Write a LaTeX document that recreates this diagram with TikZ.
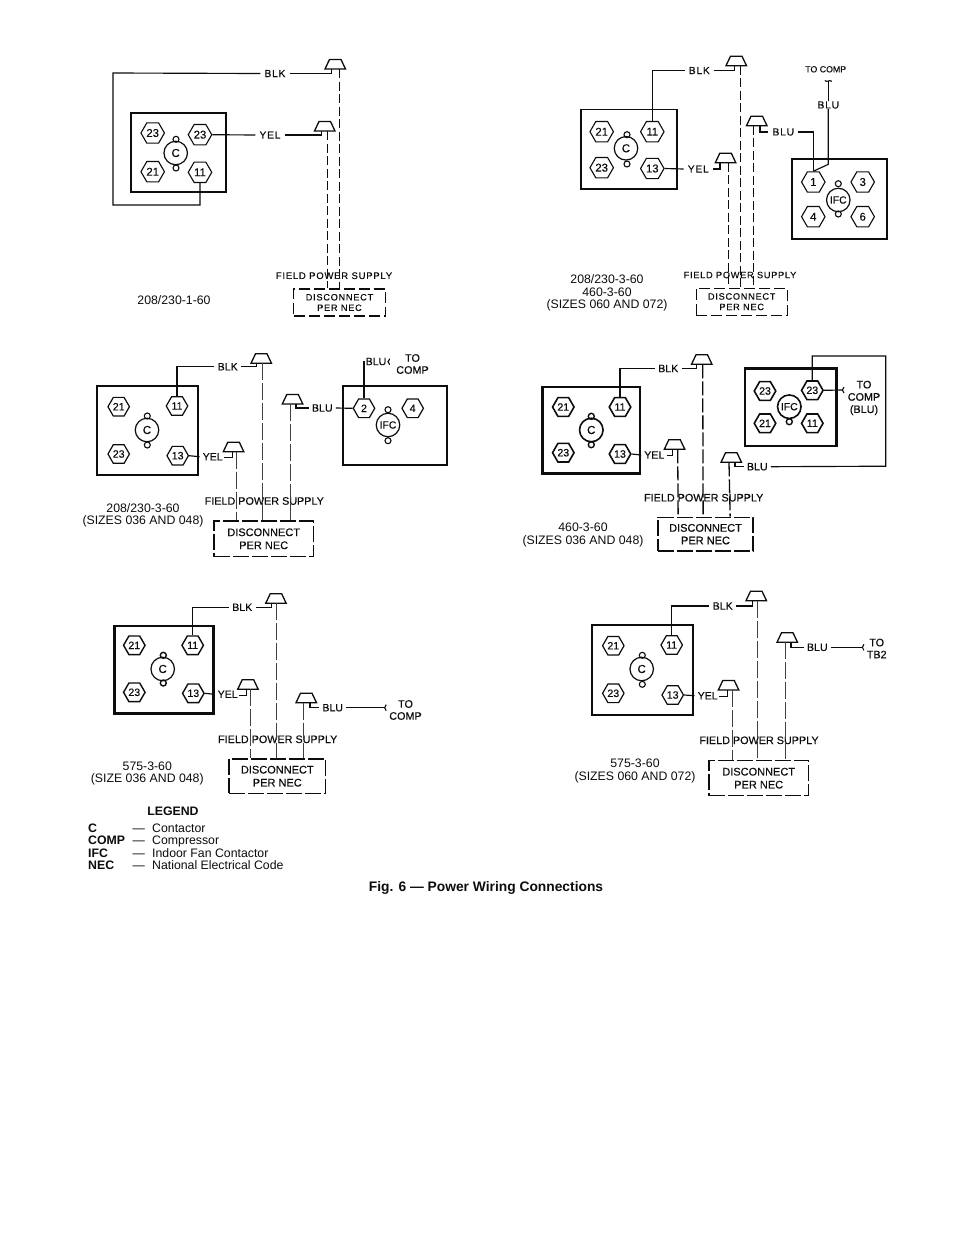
\documentclass[tikz,border=0pt]{standalone}
\usepackage{fontspec}
\setmainfont{Liberation Sans}
\newfontfamily\lett[LetterSpace=8,FakeBold=0.2]{Liberation Sans}
\newfontfamily\fb[FakeBold=0.6]{Liberation Sans}
\newfontfamily\rb[FakeBold=0.2]{Liberation Sans}
\usetikzlibrary{shapes.geometric,calc}
\definecolor{ink}{gray}{0.05}
\definecolor{soft}{gray}{0.25}
\newcommand{\sz}[1]{\fontsize{#1}{#1}\selectfont}
\tikzset{
  wire/.style={draw=ink,line width=1.15pt},
  frame/.style={draw=ink,line width=1.9pt,inner sep=0},
  frameB/.style={draw=ink,line width=2.4pt,inner sep=0},
  hexA/.style={regular polygon,regular polygon sides=6,draw=ink,line width=1.1pt,inner sep=0,minimum size=23.5pt,text=ink,font=\rb\sz{11.3}},
  hexB/.style={regular polygon,regular polygon sides=6,draw=ink,line width=1.2pt,inner sep=0,minimum size=21.5pt,text=ink,font=\rb\sz{10.6}},
  hexC/.style={hexB,line width=1.6pt,font=\fb\sz{10.6}},
  coil/.style={circle,draw=ink,line width=1.2pt,inner sep=0,minimum size=23.5pt,text=ink,font=\rb\sz{11.5}},
  coilC/.style={coil,line width=1.6pt,font=\fb\sz{11.5}},
  dotc/.style={circle,draw=ink,line width=1.1pt,inner sep=0,minimum size=6pt},
  dotC/.style={dotc,line width=1.4pt},
  labA/.style={inner xsep=4pt,inner ysep=0,text=ink,font=\lett\sz{10.2}},
  labB/.style={inner xsep=3pt,inner ysep=0,text=ink,font=\rb\sz{10.6}},
  labC/.style={inner xsep=3pt,inner ysep=0,text=ink,font=\fb\sz{10.6}},
  capt/.style={inner sep=0,text=ink,align=center,font=\fontsize{12.3}{12.5}\selectfont},
  head/.style={inner sep=0,text=ink,align=center,font=\lett\sz{9.5}},
  fieldB/.style={inner sep=0,text=ink,font=\rb\sz{10.8}},
  note/.style={inner sep=0,text=ink,align=center,font=\rb\fontsize{10.8}{12}\selectfont},
  noteC/.style={inner sep=0,text=ink,align=center,font=\fb\fontsize{10.8}{12.3}\selectfont},
  discA/.style={draw=ink,line width=1.3pt,dash pattern=on 11pt off 4pt,inner sep=0,text=ink,align=center,font=\lett\fontsize{9.2}{10.5}\selectfont},
  discB/.style={draw=ink,line width=1.4pt,dash pattern=on 16pt off 3pt,inner sep=0,text=ink,align=center,font=\rb\fontsize{11}{13}\selectfont},
  discC/.style={discB,line width=1.7pt,font=\fb\fontsize{11}{12.6}\selectfont},
  dwA/.style={draw=ink,line width=1.1pt,dash pattern=on 9pt off 3.5pt},
  dwB/.style={draw=soft,line width=1pt,dash pattern=on 17pt off 3pt},
  dwC/.style={draw=ink,line width=1.3pt,dash pattern=on 14pt off 3pt},
  legk/.style={inner sep=0,anchor=base west,text=ink,font=\bfseries\fontsize{12.3}{12.5}\selectfont},
  legv/.style={inner sep=0,anchor=base west,text=ink,font=\fontsize{12.3}{12.5}\selectfont}
}
% \lug{name}{left x}{bottom y}{stub x}{drop x}
\newcommand{\lug}[5]{%
  \coordinate (#1) at (#2,#3);
  \coordinate (#1s) at (#4,#3);
  \coordinate (#1d) at (#5,#3);
  \draw[draw=ink,line width=1.3pt,line join=miter] (#2,#3) -- ++(20.5,0) -- ++(-4.5,-9.5) -- ++(-11.5,0) -- cycle;
}
% \tick{name}: terminal mark at a named coordinate
\newcommand{\tick}[1]{\draw[draw=ink,line width=1.1pt] ($(#1)+(1.2,-3)$) .. controls ($(#1)+(-0.8,-1)$) and ($(#1)+(-0.8,1)$) .. ($(#1)+(1.2,3)$);}
\begin{document}
\begin{tikzpicture}[x=1pt,y=-1pt]
\useasboundingbox[fill=white] (0,0) rectangle (954,1235);

%% ---------- Panel 1
\node[frame,minimum width=95pt,minimum height=79pt] (f1) at (178.5,152.5) {};
\node[hexA] (p1a) at (152.7,133) {23};
\node[hexA] (p1b) at (200,134.7) {23};
\node[hexA] (p1c) at (152.7,171.7) {21};
\node[hexA] (p1d) at (200,172.3) {11};
\node[coil] (p1k) at (175.7,153) {C};
\node[dotc] (p1u) at (176,139.3) {};
\node[dotc] (p1v) at (176,168) {};
\lug{p1x}{325}{69}{331.7}{339.3}
\lug{p1y}{314.5}{131}{321.7}{327.7}
\node[labA] (p1blk) at (275,73.5) {BLK};
\node[labA] (p1yel) at (270,135) {YEL};
\coordinate (p1c1) at (200,205);
\coordinate (p1c2) at (113,73);
\draw[wire] (p1d.south) -- (p1c1) -| (p1c2) -- (p1blk.west);
\draw[wire] (p1blk.east) -| (p1xs);
\draw[wire] (p1b.east) -- (p1yel.west);
\draw[wire] (p1yel.east) -| (p1ys);
\node[head] (p1f) at (334,275.7) {FIELD POWER SUPPLY};
\node[discA,minimum width=92pt,minimum height=27pt] (p1n) at (339.5,302.5) {DISCONNECT\\PER  NEC};
\draw[dwA] (p1xd) -- (p1xd |- p1n.north);
\draw[dwA] (p1yd) -- (p1yd |- p1n.north);
\node[capt] (p1t) at (174,300.5) {208/230-1-60};

%% ---------- Panel 2
\node[frame,minimum width=96pt,minimum height=79.5pt] (f2) at (628.7,149.2) {};
\node[hexA] (p2a) at (601.7,131.7) {21};
\node[hexA] (p2b) at (652.3,131.7) {11};
\node[hexA] (p2c) at (601.7,167.7) {23};
\node[hexA] (p2d) at (652.3,168.5) {13};
\node[coil] (p2k) at (626,148.3) {C};
\node[dotc] (p2u) at (627,134.7) {};
\node[dotc] (p2v) at (627,164) {};
\lug{p2x}{726}{65.7}{734.3}{740.3}
\lug{p2y}{715.3}{162.7}{720}{728.3}
\lug{p2z}{746.5}{125.7}{760}{753.3}
\node[labA] (p2blk) at (699.3,70.5) {BLK};
\node[labA] (p2yel) at (698.3,169) {YEL};
\node[labA] (p2blu) at (783.3,132) {BLU};
\draw[wire] (p2b.north) |- (p2blk.west);
\draw[wire] (p2blk.east) -| (p2xs);
\draw[wire] (p2d.east) -- (p2yel.west);
\draw[wire] (p2yel.east) -| (p2ys);
\draw[wire] (p2zs) |- (p2blu.west);
\node[frame,minimum width=95.5pt,minimum height=80pt] (g2) at (839.5,199.3) {};
\node[hexA] (q2a) at (813.3,182) {1};
\node[hexA] (q2b) at (862.7,182) {3};
\node[hexA] (q2c) at (813.3,216.7) {4};
\node[hexA] (q2d) at (862.7,216.7) {6};
\node[coil,font=\rb\sz{10.4}] (q2k) at (838.3,200) {IFC};
\node[dotc] (q2u) at (838.3,183.7) {};
\node[dotc] (q2v) at (838.3,214) {};
\draw[wire] (p2blu.east) -| (q2a.north);
\node[labA] (q2blu) at (828.3,105) {BLU};
\coordinate (q2bend) at (828.3,164.3);
\draw[wire] (q2a.north) -- (q2bend) -- (q2blu.south);
\coordinate (q2end) at (828.3,81);
\draw[wire] (q2blu.north) -- (q2end);
\draw[draw=ink,line width=1.1pt] ($(q2end)+(-3.5,-0.5)$) .. controls ($(q2end)+(-1.5,2)$) and ($(q2end)+(1.5,-2)$) .. ($(q2end)+(3.5,0.5)$);
\node[inner sep=0,text=ink,font=\rb\sz{8.8}] (q2to) at (825.7,69.3) {TO COMP};
\node[head,font=\lett\sz{9.2}] (p2f) at (740,275) {FIELD POWER SUPPLY};
\node[discA,minimum width=91pt,minimum height=27pt] (p2n) at (741.7,301.7) {DISCONNECT\\PER NEC};
\draw[dwA] (p2xd) -- (p2xd |- p2n.north);
\draw[dwA] (p2yd) -- (p2yd |- p2n.north);
\draw[dwA] (p2zd) -- (p2zd |- p2n.north);
\node[capt] (p2t) at (607,293.3) {208/230-3-60\\460-3-60\\(SIZES 060 AND 072)};

%% ---------- Panel 3
\node[frame,minimum width=101pt,minimum height=89.3pt] (f3) at (147.8,430.3) {};
\node[hexB] (p3a) at (118.7,406.7) {21};
\node[hexB] (p3b) at (177,406) {11};
\node[hexB] (p3c) at (118.7,454) {23};
\node[hexB] (p3d) at (177.7,455.7) {13};
\node[coil] (p3k) at (147,430) {C};
\node[dotc] (p3u) at (147.3,416) {};
\node[dotc] (p3v) at (147.3,445) {};
\lug{p3x}{251}{363.3}{256.7}{262.7}
\lug{p3y}{223.3}{451.7}{232.3}{236.7}
\lug{p3z}{282.3}{404}{296}{290}
\node[labB] (p3blk) at (227.7,366.7) {BLK};
\node[labB] (p3yel) at (212.7,456.7) {YEL};
\node[labB] (p3blu) at (322.3,408) {BLU};
\draw[wire] (p3b.north) |- (p3blk.west);
\draw[wire] (p3blk.east) -| (p3xs);
\draw[wire] (p3d.east) -- (p3yel.west);
\coordinate (p3ye) at (224,457.7);
\draw[wire] (p3ye) -| (p3ys);
\draw[wire] (p3zs) |- (p3blu.west);
\node[frame,minimum width=104pt,minimum height=79.3pt] (g3) at (394.7,425.3) {};
\node[hexB] (q3a) at (364,408.3) {2};
\node[hexB] (q3b) at (412.7,408.3) {4};
\node[coil,font=\rb\sz{10.4}] (q3k) at (388,425) {IFC};
\node[dotc] (q3u) at (388,409.7) {};
\node[dotc] (q3v) at (388,440.7) {};
\draw[wire] (p3blu.east) -- (q3a.west);
\node[labB,inner xsep=1pt] (q3blu) at (376,361.5) {BLU};
\draw[wire] (q3a.north) |- (q3blu.west);
\coordinate (q3end) at (388.5,361.7);
\draw[wire] (q3blu.east) -- (q3end);
\tick{q3end}
\node[note] (q3to) at (412.5,364) {TO\\COMP};
\node[fieldB] (p3f) at (264.3,501) {FIELD POWER SUPPLY};
\node[discB,minimum width=99.3pt,minimum height=35.7pt] (p3n) at (263.7,538.8) {DISCONNECT\\PER NEC};
\draw[dwB] (p3xd) -- (p3xd |- p3n.north);
\draw[dwB] (p3yd) -- (p3yd |- p3n.north);
\draw[dwB] (p3zd) -- (p3zd |- p3n.north);
\node[capt] (p3t) at (143,515.3) {208/230-3-60\\(SIZES 036 AND 048)};

%% ---------- Panel 4
\node[frameB,minimum width=97.7pt,minimum height=86.6pt] (f4) at (591.2,430) {};
\node[hexC] (p4a) at (563.3,407) {21};
\node[hexC] (p4b) at (620,407) {11};
\node[hexC] (p4c) at (563.3,452.7) {23};
\node[hexC] (p4d) at (620,454) {13};
\node[coilC] (p4k) at (591.3,430) {C};
\node[dotC] (p4u) at (591.3,416.3) {};
\node[dotC] (p4v) at (591.3,444.7) {};
\lug{p4x}{691.5}{364.3}{696.7}{702.7}
\lug{p4y}{664.3}{449.3}{672.3}{677.7}
\lug{p4z}{721}{462.3}{735}{729}
\node[labC] (p4blk) at (668.3,368.5) {BLK};
\node[labC] (p4yel) at (654.3,455) {YEL};
\node[labC] (p4blu) at (757.3,466.7) {BLU};
\draw[wire] (p4b.north) |- (p4blk.west);
\draw[wire] (p4blk.east) -| (p4xs);
\draw[wire] (p4d.east) -- (p4yel.west);
\coordinate (p4ye) at (666.7,455.7);
\draw[wire] (p4ye) -| (p4ys);
\draw[wire] (p4zs) |- (p4blu.west);
\node[frameB,minimum width=91.7pt,minimum height=77.4pt] (g4) at (790.8,407) {};
\node[hexC] (q4a) at (765,391) {23};
\node[hexC] (q4b) at (812.3,390.3) {23};
\node[hexC] (q4c) at (765,423.3) {21};
\node[hexC] (q4d) at (812.3,423.3) {11};
\node[coilC,font=\fb\sz{10.4}] (q4k) at (789.3,406.7) {IFC};
\node[dotC] (q4v) at (789.3,421.7) {};
\coordinate (q4c1) at (885.7,466.2);
\coordinate (q4c2) at (812.3,356);
\draw[wire] (p4blu.east) -- (q4c1) |- (q4c2) -- (q4b.north);
\coordinate (q4end) at (842.7,390);
\draw[wire] (q4b.east) -- (q4end);
\tick{q4end}
\node[noteC] (q4to) at (864,398) {TO\\COMP\\(BLU)};
\node[inner sep=0,text=ink,font=\fb\sz{10.8}] (p4f) at (703.7,497.7) {FIELD POWER SUPPLY};
\node[discC,minimum width=95.6pt,minimum height=33.7pt] (p4n) at (705.5,534.2) {DISCONNECT\\PER NEC};
\draw[dwC] (p4xd) -- ($(p4n.north west)+(46.3,0)$);
\draw[dwC] (p4yd) -- ($(p4n.north west)+(21.3,0)$);
\draw[dwC] (p4zd) -- ($(p4n.north west)+(73.3,0)$);
\node[capt] (p4t) at (583,535) {460-3-60\\(SIZES 036 AND 048)};

%% ---------- Panel 5
\node[frameB,minimum width=99pt,minimum height=87.6pt] (f5) at (163.8,669.5) {};
\node[hexB,line width=1.4pt] (p5a) at (134.3,645.3) {21};
\node[hexB,line width=1.4pt] (p5b) at (192.7,645.3) {11};
\node[hexB,line width=1.4pt] (p5c) at (134.3,692.3) {23};
\node[hexB,line width=1.4pt] (p5d) at (193.3,693.3) {13};
\node[coil] (p5k) at (162.7,669) {C};
\node[dotC] (p5u) at (163.3,655.3) {};
\node[dotC] (p5v) at (163.3,683) {};
\lug{p5x}{265.7}{603.3}{271.7}{276.7}
\lug{p5y}{237.7}{689.3}{246.7}{250.7}
\lug{p5z}{296}{702.7}{310}{303.3}
\node[labB] (p5blk) at (242.3,607.3) {BLK};
\node[labB] (p5yel) at (227.7,694.3) {YEL};
\node[labB] (p5blu) at (332.7,707.7) {BLU};
\draw[wire] (p5b.north) |- (p5blk.west);
\draw[wire] (p5blk.east) -| (p5xs);
\draw[wire] (p5d.east) -- (p5yel.west);
\coordinate (p5ye) at (239,695.7);
\draw[wire] (p5ye) -| (p5ys);
\draw[wire] (p5zs) |- (p5blu.west);
\coordinate (p5end) at (385,707.7);
\draw[wire] (p5blu.east) -- (p5end);
\tick{p5end}
\node[note] (p5to) at (405.5,710) {TO\\COMP};
\node[fieldB] (p5f) at (277.7,739.3) {FIELD POWER SUPPLY};
\node[discB,minimum width=96.7pt,minimum height=34.3pt] (p5n) at (277.3,776.2) {DISCONNECT\\PER NEC};
\draw[dwB] (p5xd) -- (p5xd |- p5n.north);
\draw[dwB] (p5yd) -- (p5yd |- p5n.north);
\draw[dwB] (p5zd) -- (p5zd |- p5n.north);
\node[capt] (p5t) at (147.3,773.7) {575-3-60\\(SIZE 036 AND 048)};

%% ---------- Panel 6
\node[frame,minimum width=101pt,minimum height=90pt] (f6) at (642.8,670) {};
\node[hexB] (p6a) at (613.3,645.7) {21};
\node[hexB] (p6b) at (671.7,645) {11};
\node[hexB] (p6c) at (613.3,693.3) {23};
\node[hexB] (p6d) at (672.7,695) {13};
\node[coil] (p6k) at (641.7,669) {C};
\node[dotc] (p6u) at (642.3,655.3) {};
\node[dotc] (p6v) at (642.3,684.3) {};
\lug{p6x}{746}{600.7}{752.3}{757.7}
\lug{p6y}{718.3}{690}{727.3}{732}
\lug{p6z}{777}{642.3}{791}{785}
\node[labB] (p6blk) at (722.7,606) {BLK};
\node[labB] (p6yel) at (707.7,695.7) {YEL};
\node[labB] (p6blu) at (817.3,647.3) {BLU};
\draw[wire] (p6b.north) |- (p6blk.west);
\draw[wire] (p6blk.east) -| (p6xs);
\draw[wire] (p6d.east) -- (p6yel.west);
\coordinate (p6ye) at (719,696.7);
\draw[wire] (p6ye) -| (p6ys);
\draw[wire] (p6zs) |- (p6blu.west);
\coordinate (p6end) at (862.7,647.3);
\draw[wire] (p6blu.east) -- (p6end);
\tick{p6end}
\node[note] (p6to) at (876.7,648.5) {TO\\TB2};
\node[fieldB] (p6f) at (759,740.3) {FIELD POWER SUPPLY};
\node[discB,minimum width=99.3pt,minimum height=35pt] (p6n) at (758.7,778.2) {DISCONNECT\\PER NEC};
\draw[dwB] (p6xd) -- (p6xd |- p6n.north);
\draw[dwB] (p6yd) -- (p6yd |- p6n.north);
\draw[dwB] (p6zd) -- (p6zd |- p6n.north);
\node[capt] (p6t) at (635,771) {575-3-60\\(SIZES 060 AND 072)};

%% ---------- Legend and caption
\node[inner sep=0,text=ink,font=\bfseries\fontsize{12.3}{12.5}\selectfont] (lh) at (173,811) {LEGEND};
\node[legk] (k1) at (88,832.3) {C};
\node[legk] (k2) at (88,844.7) {COMP};
\node[legk] (k3) at (88,857.2) {IFC};
\node[legk] (k4) at (88,869.5) {NEC};
\node[legv] (d1) at (132.5,832.3) {—};
\node[legv] (d2) at (132.5,844.7) {—};
\node[legv] (d3) at (132.5,857.2) {—};
\node[legv] (d4) at (132.5,869.5) {—};
\node[legv] (v1) at (152,832.3) {Contactor};
\node[legv] (v2) at (152,844.7) {Compressor};
\node[legv] (v3) at (152,857.2) {Indoor Fan Contactor};
\node[legv] (v4) at (152,869.5) {National Electrical Code};
\node[inner sep=0,text=ink,font=\bfseries\fontsize{13.8}{14}\selectfont] (fig) at (486,888) {Fig. 6 — Power Wiring Connections};
\end{tikzpicture}
\end{document}
